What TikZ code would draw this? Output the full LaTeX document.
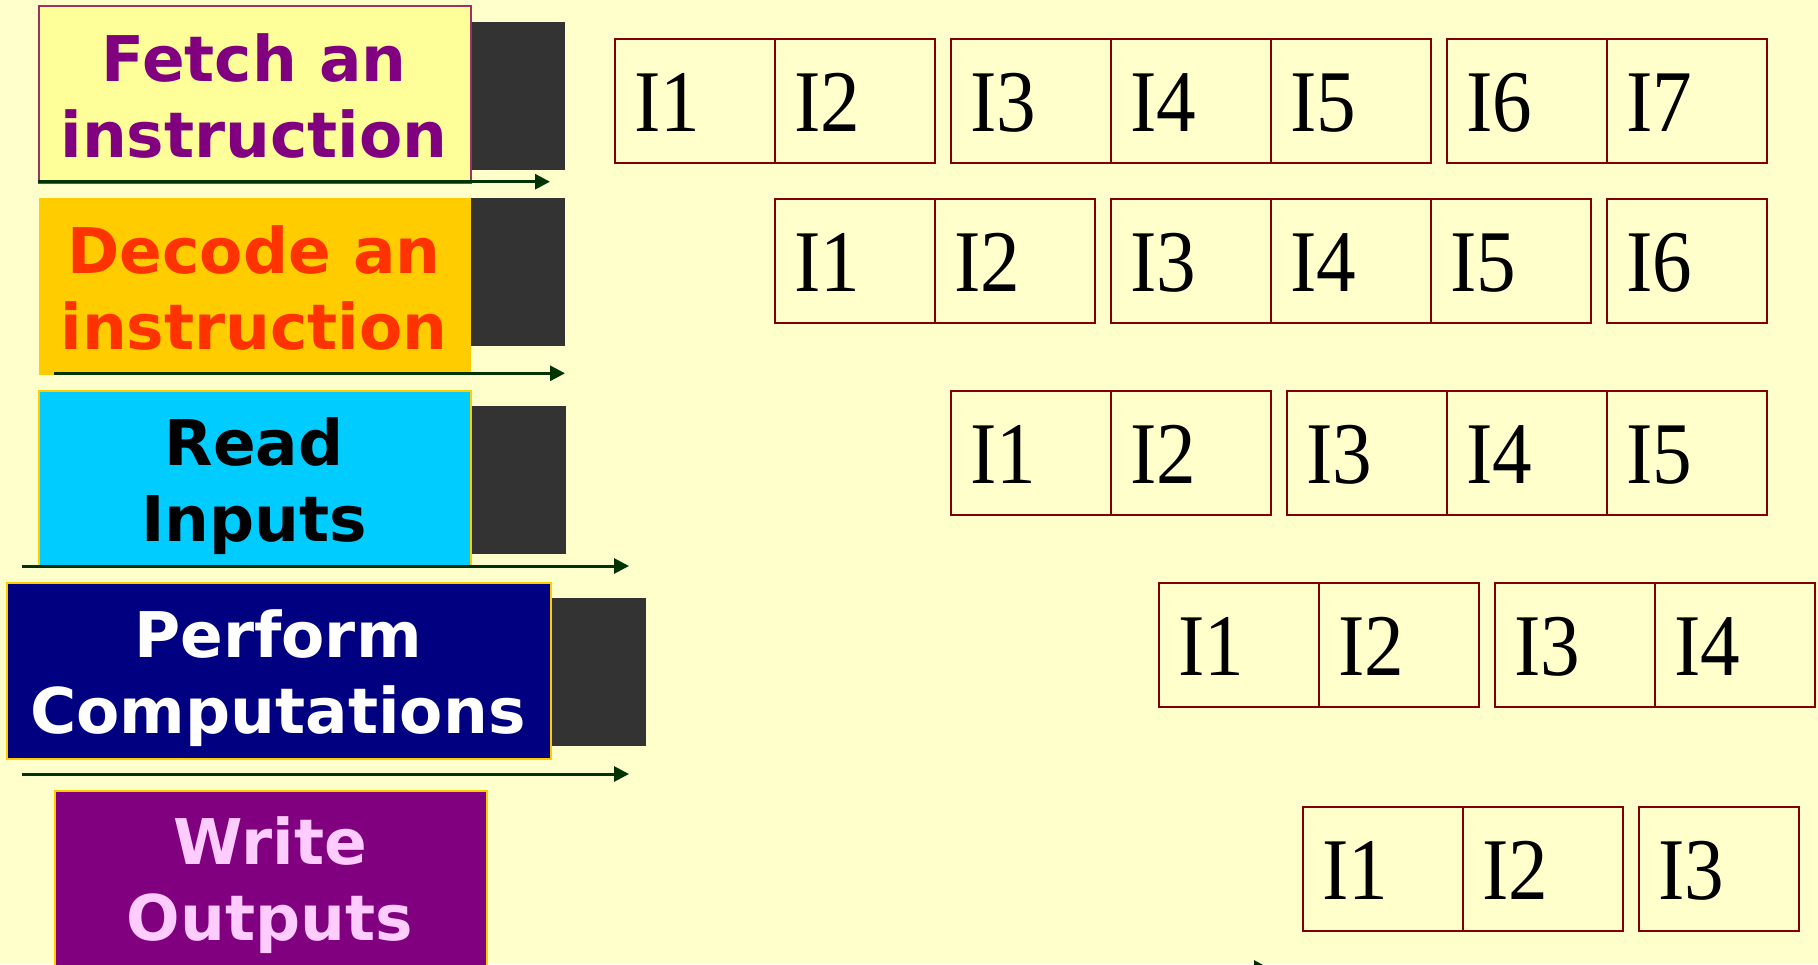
\documentclass[tikz,border=0pt]{standalone}
\usepackage{fontspec}
\setmainfont{Liberation Serif}
\newfontfamily\cellfont[FakeStretch=0.9]{Liberation Serif}
\newfontfamily\stagefont{DejaVu Sans}
\usetikzlibrary{arrows.meta}
\definecolor{bgc}{HTML}{FFFFCC}
\definecolor{cellc}{HTML}{800000}
\definecolor{darkc}{HTML}{333333}
\definecolor{flowc}{HTML}{003300}
\definecolor{fetchfill}{HTML}{FFFF99}
\definecolor{fetchdraw}{HTML}{993366}
\definecolor{fetchtext}{HTML}{800080}
\definecolor{goldc}{HTML}{FFCC00}
\definecolor{decodetext}{HTML}{FF3300}
\definecolor{readfill}{HTML}{00CCFF}
\definecolor{perffill}{HTML}{000080}
\definecolor{writefill}{HTML}{800080}
\definecolor{writetext}{HTML}{FFCCFF}
\begin{document}
\begin{tikzpicture}[x=1pt,y=-1pt,
  cell/.style={draw=cellc, line width=2pt, text width=122pt, inner xsep=19pt, inner ysep=0pt,
    text height=92.5pt, text depth=31.5pt, align=left, anchor=north west,
    font=\cellfont\fontsize{88}{90}\selectfont},
  stagebox/.style={anchor=north west, inner sep=0pt, line width=2pt},
  darkbox/.style={anchor=north west, inner sep=0pt, fill=darkc, minimum width=95pt, minimum height=148pt},
  stagetext/.style={anchor=base, inner sep=0pt, font=\stagefont\bfseries\fontsize{63}{76}\selectfont},
  flow/.style={draw=flowc, line width=3pt, -{Triangle[length=15pt,width=15pt]}}]
\useasboundingbox (0,0) rectangle (1818,964);
\clip (0,0) rectangle (1818,964);
\fill[bgc] (0,0) rectangle (1818,964);

% dark blocks
\node[darkbox] (d1) at (470,22) {};
\node[darkbox] (d2) at (470,198) {};
\node[darkbox, minimum width=96pt] (d3) at (470,406) {};
\node[darkbox, minimum width=96pt] (d4) at (550,598) {};

% stage boxes
\node[stagebox, fill=fetchfill, draw=fetchdraw, line width=1.5pt, minimum width=432pt, minimum height=177pt] (fetchbox) at (38,5) {};
\node[stagebox, fill=goldc, minimum width=432pt, minimum height=177pt] (decodebox) at (38,197) {};
\node[stagebox, fill=readfill, draw=goldc, minimum width=432pt, minimum height=175pt] (readbox) at (38,390) {};
\node[stagebox, fill=perffill, draw=goldc, minimum width=544pt, minimum height=176pt] (perfbox) at (6,582) {};
\node[stagebox, fill=writefill, draw=goldc, minimum width=432pt, minimum height=220pt] (writebox) at (54,790) {};

% stage texts
\node[stagetext, text=fetchtext] (fetchtxt) at (254,81) {\begin{tabular}[t]{@{}c@{}}Fetch an\\instruction\end{tabular}};
\node[stagetext, text=decodetext] (decodetxt) at (254,273) {\begin{tabular}[t]{@{}c@{}}Decode an\\instruction\end{tabular}};
\node[stagetext, text=black] (readtxt) at (254,465) {\begin{tabular}[t]{@{}c@{}}Read\\Inputs\end{tabular}};
\node[stagetext, text=white] (perftxt) at (278,657.5) {\begin{tabular}[t]{@{}c@{}}Perform\\Computations\end{tabular}};
\node[stagetext, text=writetext] (writetxt) at (270,864) {\begin{tabular}[t]{@{}c@{}}Write\\Outputs\end{tabular}};

% flow arrows
\coordinate (a1s) at (38,181.7);  \coordinate (a1e) at (550,181.7);
\coordinate (a2s) at (54,373.3);  \coordinate (a2e) at (565,373.3);
\coordinate (a3s) at (22,566);    \coordinate (a3e) at (629,566);
\coordinate (a4s) at (22,774);    \coordinate (a4e) at (629,774);
\coordinate (a5s) at (22,968);    \coordinate (a5e) at (1269,968);
\draw[flow] (a1s) -- (a1e);
\draw[flow] (a2s) -- (a2e);
\draw[flow] (a3s) -- (a3e);
\draw[flow] (a4s) -- (a4e);
\draw[flow] (a5s) -- (a5e);

% row 1
\node[cell] (r1c1) at (614,38) {I1};
\node[cell] (r1c2) at (774,38) {I2};
\node[cell] (r1c3) at (950,38) {I3};
\node[cell] (r1c4) at (1110,38) {I4};
\node[cell] (r1c5) at (1270,38) {I5};
\node[cell] (r1c6) at (1446,38) {I6};
\node[cell] (r1c7) at (1606,38) {I7};
% row 2
\node[cell] (r2c1) at (774,198) {I1};
\node[cell] (r2c2) at (934,198) {I2};
\node[cell] (r2c3) at (1110,198) {I3};
\node[cell] (r2c4) at (1270,198) {I4};
\node[cell] (r2c5) at (1430,198) {I5};
\node[cell] (r2c6) at (1606,198) {I6};
% row 3
\node[cell] (r3c1) at (950,390) {I1};
\node[cell] (r3c2) at (1110,390) {I2};
\node[cell] (r3c3) at (1286,390) {I3};
\node[cell] (r3c4) at (1446,390) {I4};
\node[cell] (r3c5) at (1606,390) {I5};
% row 4
\node[cell] (r4c1) at (1158,582) {I1};
\node[cell] (r4c2) at (1318,582) {I2};
\node[cell] (r4c3) at (1494,582) {I3};
\node[cell] (r4c4) at (1654,582) {I4};
% row 5
\node[cell] (r5c1) at (1302,806) {I1};
\node[cell] (r5c2) at (1462,806) {I2};
\node[cell] (r5c3) at (1638,806) {I3};
\end{tikzpicture}
\end{document}
